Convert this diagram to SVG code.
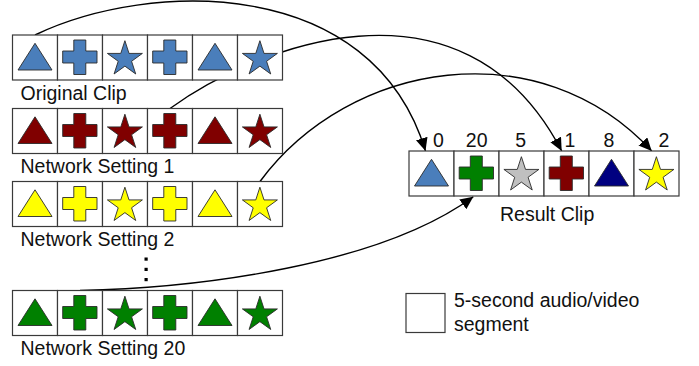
<svg xmlns="http://www.w3.org/2000/svg" xmlns:xlink="http://www.w3.org/1999/xlink" width="699" height="366" viewBox="0 0 699 366">
<style>
.cell{fill:#fff;stroke:#3a3a3a;stroke-width:1.2}
.sh{stroke:#2a2a2a;stroke-width:0.9;stroke-linejoin:miter}
.lbl{font-family:"Liberation Sans",Arial,sans-serif;font-size:19.5px;fill:#111}
.num{font-family:"Liberation Sans",Arial,sans-serif;font-size:19.5px;fill:#111;text-anchor:middle}
.conn{fill:none;stroke:#000;stroke-width:1.4}
.blue{fill:#4a7ebb}.red{fill:#800000}.yel{fill:#ffff00}.grn{fill:#008000}.gry{fill:#c0c0c0}.navy{fill:#000080}
</style>
<defs>
<marker id="ah" markerUnits="userSpaceOnUse" markerWidth="14" markerHeight="12" refX="13" refY="6" orient="auto" viewBox="0 0 14 12">
<path d="M0,0 L13,6 L0,12 Z" fill="#000"/>
</marker>
<path id="tri" d="M22.5,8.3 L39.5,35 L5.5,35 Z"/>
<path id="crs" d="M16.3,5 L28.3,5 L28.3,16 L39.5,16 L39.5,28 L28.3,28 L28.3,39.5 L16.3,39.5 L16.3,28 L5.2,28 L5.2,16 L16.3,16 Z"/>
<path id="str" d="M22.4,5.7 L26.53,18.41 L39.9,18.41 L29.09,26.27 L33.22,38.99 L22.4,31.13 L11.58,38.99 L15.71,26.27 L4.9,18.41 L18.27,18.41 Z"/>
</defs>

<g id="connectors">
<path class="conn" d="M35,35 C150,-20 372,-25 425.5,151" marker-end="url(#ah)"/>
<path class="conn" d="M170,108.5 C250,50 462,-40 561.7,151" marker-end="url(#ah)"/>
<path class="conn" d="M260,181.5 C350,60 540,30 651.7,151" marker-end="url(#ah)"/>
<path class="conn" d="M80,290.5 C200,288 380,265 473.3,196.7" marker-end="url(#ah)"/>
</g>

<g id="original-clip">
<rect class="cell" x="12.5" y="35" width="45" height="45"/>
<rect class="cell" x="57.5" y="35" width="45" height="45"/>
<rect class="cell" x="102.5" y="35" width="45" height="45"/>
<rect class="cell" x="147.5" y="35" width="45" height="45"/>
<rect class="cell" x="192.5" y="35" width="45" height="45"/>
<rect class="cell" x="237.5" y="35" width="45" height="45"/>
<use href="#tri" xlink:href="#tri" class="sh blue" x="12.5" y="35"/>
<use href="#crs" xlink:href="#crs" class="sh blue" x="57.5" y="35"/>
<use href="#str" xlink:href="#str" class="sh blue" x="102.5" y="35"/>
<use href="#crs" xlink:href="#crs" class="sh blue" x="147.5" y="35"/>
<use href="#tri" xlink:href="#tri" class="sh blue" x="192.5" y="35"/>
<use href="#str" xlink:href="#str" class="sh blue" x="237.5" y="35"/>
<text class="lbl" x="20.5" y="99.5">Original Clip</text>
</g>

<g id="network-setting-1">
<rect class="cell" x="12.5" y="108.5" width="45" height="45"/>
<rect class="cell" x="57.5" y="108.5" width="45" height="45"/>
<rect class="cell" x="102.5" y="108.5" width="45" height="45"/>
<rect class="cell" x="147.5" y="108.5" width="45" height="45"/>
<rect class="cell" x="192.5" y="108.5" width="45" height="45"/>
<rect class="cell" x="237.5" y="108.5" width="45" height="45"/>
<use href="#tri" xlink:href="#tri" class="sh red" x="12.5" y="108.5"/>
<use href="#crs" xlink:href="#crs" class="sh red" x="57.5" y="108.5"/>
<use href="#str" xlink:href="#str" class="sh red" x="102.5" y="108.5"/>
<use href="#crs" xlink:href="#crs" class="sh red" x="147.5" y="108.5"/>
<use href="#tri" xlink:href="#tri" class="sh red" x="192.5" y="108.5"/>
<use href="#str" xlink:href="#str" class="sh red" x="237.5" y="108.5"/>
<text class="lbl" x="20.5" y="173">Network Setting 1</text>
</g>

<g id="network-setting-2">
<rect class="cell" x="12.5" y="181.5" width="45" height="45"/>
<rect class="cell" x="57.5" y="181.5" width="45" height="45"/>
<rect class="cell" x="102.5" y="181.5" width="45" height="45"/>
<rect class="cell" x="147.5" y="181.5" width="45" height="45"/>
<rect class="cell" x="192.5" y="181.5" width="45" height="45"/>
<rect class="cell" x="237.5" y="181.5" width="45" height="45"/>
<use href="#tri" xlink:href="#tri" class="sh yel" x="12.5" y="181.5"/>
<use href="#crs" xlink:href="#crs" class="sh yel" x="57.5" y="181.5"/>
<use href="#str" xlink:href="#str" class="sh yel" x="102.5" y="181.5"/>
<use href="#crs" xlink:href="#crs" class="sh yel" x="147.5" y="181.5"/>
<use href="#tri" xlink:href="#tri" class="sh yel" x="192.5" y="181.5"/>
<use href="#str" xlink:href="#str" class="sh yel" x="237.5" y="181.5"/>
<text class="lbl" x="20.5" y="245.5">Network Setting 2</text>
</g>

<g id="ellipsis">
<rect x="144.5" y="257.5" width="3.2" height="3.2" fill="#000"/>
<rect x="144.5" y="267.8" width="3.2" height="3.2" fill="#000"/>
<rect x="144.5" y="278" width="3.2" height="3.2" fill="#000"/>
</g>

<g id="network-setting-20">
<rect class="cell" x="12.5" y="290.5" width="45" height="45"/>
<rect class="cell" x="57.5" y="290.5" width="45" height="45"/>
<rect class="cell" x="102.5" y="290.5" width="45" height="45"/>
<rect class="cell" x="147.5" y="290.5" width="45" height="45"/>
<rect class="cell" x="192.5" y="290.5" width="45" height="45"/>
<rect class="cell" x="237.5" y="290.5" width="45" height="45"/>
<use href="#tri" xlink:href="#tri" class="sh grn" x="12.5" y="290.5"/>
<use href="#crs" xlink:href="#crs" class="sh grn" x="57.5" y="290.5"/>
<use href="#str" xlink:href="#str" class="sh grn" x="102.5" y="290.5"/>
<use href="#crs" xlink:href="#crs" class="sh grn" x="147.5" y="290.5"/>
<use href="#tri" xlink:href="#tri" class="sh grn" x="192.5" y="290.5"/>
<use href="#str" xlink:href="#str" class="sh grn" x="237.5" y="290.5"/>
<text class="lbl" x="20.5" y="355">Network Setting 20</text>
</g>

<g id="result-clip">
<rect class="cell" x="409" y="151" width="45" height="45"/>
<rect class="cell" x="454" y="151" width="45" height="45"/>
<rect class="cell" x="499" y="151" width="45" height="45"/>
<rect class="cell" x="544" y="151" width="45" height="45"/>
<rect class="cell" x="589" y="151" width="45" height="45"/>
<rect class="cell" x="634" y="151" width="45" height="45"/>
<use href="#tri" xlink:href="#tri" class="sh blue" x="409" y="151"/>
<use href="#crs" xlink:href="#crs" class="sh grn" x="454" y="151"/>
<use href="#str" xlink:href="#str" class="sh gry" x="499" y="151"/>
<use href="#crs" xlink:href="#crs" class="sh red" x="544" y="151"/>
<use href="#tri" xlink:href="#tri" class="sh navy" x="589" y="151"/>
<use href="#str" xlink:href="#str" class="sh yel" x="634" y="151"/>
<text class="num" x="438.5" y="146.7">0</text>
<text class="num" x="476.7" y="146.7">20</text>
<text class="num" x="520.7" y="146.7">5</text>
<text class="num" x="570" y="146.7">1</text>
<text class="num" x="609" y="146.7">8</text>
<text class="num" x="664" y="146.7">2</text>
<text class="lbl" x="500" y="220.7">Result Clip</text>
</g>

<g id="legend">
<rect class="cell" x="406" y="293.5" width="39" height="39"/>
<text class="lbl" x="454" y="306.7">5-second audio/video</text>
<text class="lbl" x="454" y="330.7">segment</text>
</g>
</svg>
